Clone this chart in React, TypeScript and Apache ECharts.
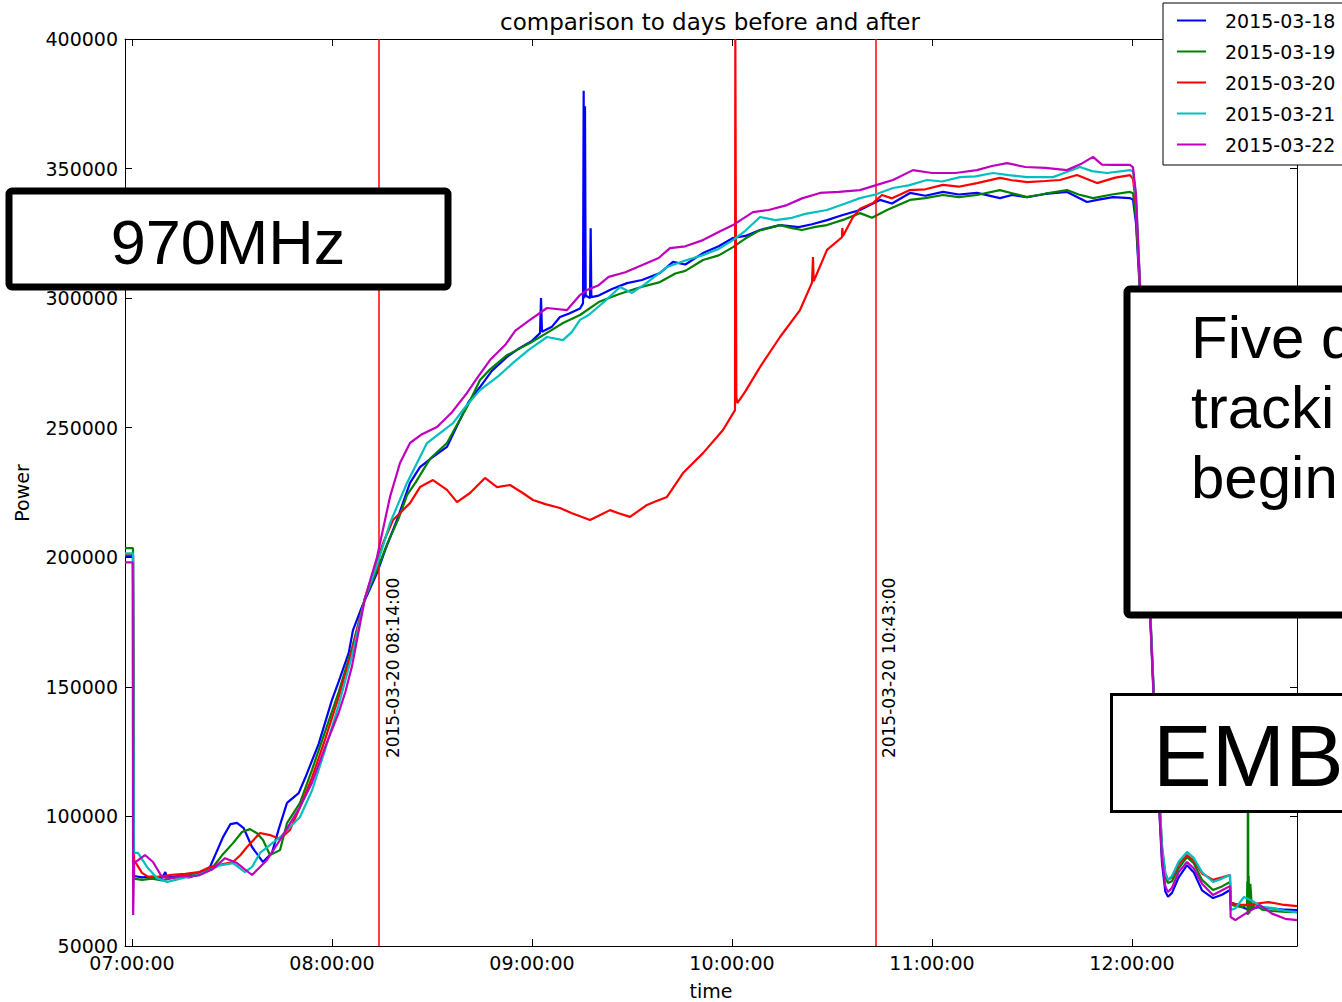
import React, { useEffect, useRef } from "react";
import * as echarts from "echarts";

// minutes after 07:00:00, power
const seriesNames = ["2015-03-18", "2015-03-19", "2015-03-20", "2015-03-21", "2015-03-22"];
const seriesColors = ["#0000ff", "#008000", "#ff0000", "#00bfbf", "#bf00bf"];
const xTickMinutes = [0, 60, 120, 180, 240, 300];
const markerMinutes = [74, 223];
const markerLabels = ["2015-03-20 08:14:00", "2015-03-20 10:43:00"];
const markerLabelValue = 122500;

const d0318: [number, number][] = [
  [-2.1, 200500], [0.3, 200500], [0.6, 77000], [3, 76500], [6, 76800], [9, 76300], [10, 78500], [10.5, 76500],
  [14, 77000], [17, 76500], [20, 77500], [23.4, 80500], [27.3, 92000], [29.5, 97000], [31.5, 97500], [33.5, 95500],
  [36, 88200], [39.3, 82400], [42, 86000], [44, 95000], [46.5, 105200], [50, 109000], [52, 115000], [56, 128000],
  [60, 145000], [62, 152000], [65, 163000], [66.3, 171900], [69, 181000], [73.5, 193900], [76, 203000], [79.5, 214400],
  [83.4, 228700], [86.4, 234800], [90, 238500], [94.5, 242600], [98, 252000], [101, 260000], [104.4, 265700],
  [108, 272000], [112.5, 277300], [116, 280500], [120, 283500], [122.4, 286500], [122.7, 300000], [123, 287000],
  [126, 289000], [128.4, 292700], [131, 294000], [134.4, 296000], [135.3, 298000], [135.5, 380000], [135.7, 300000],
  [135.9, 374000], [136.1, 301000], [137.4, 300000], [137.6, 327000], [137.8, 300400], [140, 301000], [144, 303500],
  [148.5, 305800], [153, 307000], [158.4, 309700], [162.3, 314000], [166, 313000], [171.3, 317400], [176, 320000],
  [180.3, 323200], [184, 324000], [188.4, 326300], [194.4, 328200], [200, 327400], [204, 328500], [208.5, 330100],
  [213, 332000], [218.4, 334000], [224.4, 337900], [228, 336500], [233.4, 340600], [238, 339500], [243.3, 341000],
  [248, 340000], [253.5, 340600], [260.4, 338600], [264, 339800], [268.5, 339000], [274, 340200], [280.5, 341000],
  [286.5, 337100], [290, 338000], [294.3, 339000], [299.4, 338600], [300.3, 338000], [301.2, 329000],
  [302.4, 302000], [303.6, 254000], [304.5, 214000], [305.4, 178600], [306.3, 151600], [307.8, 112000],
  [309, 82000], [310, 71000], [310.8, 69000], [312, 70500], [314, 76500], [316.5, 81200], [318.5, 78500],
  [321, 71500], [324.3, 68500], [327, 69800], [329.4, 71600], [329.6, 66900], [332, 65500], [335, 64000],
  [338, 65000], [342, 64500], [346, 64000], [349.5, 63900],
];

const d0319: [number, number][] = [
  [-2.1, 203500], [0.3, 203500], [0.6, 76000], [3, 75500], [6, 76000], [9, 75300], [12, 76200], [15, 77000],
  [18, 77500], [21, 78000], [24.3, 80500], [27, 85000], [30.3, 89700], [33, 94000], [35.4, 95100], [37.5, 93500],
  [39.3, 90900], [41.4, 85100], [44.4, 87000], [46.5, 97400], [50.4, 105200], [54, 118000], [58, 133000],
  [62, 148000], [66, 165000], [69.9, 184300], [73.5, 195000], [76.5, 205000], [80, 215000], [82.5, 224000],
  [85, 228700], [89.4, 238000], [94.5, 244100], [97, 250000], [100.5, 258000], [104.4, 268400], [107, 272000],
  [112.5, 278000], [119.4, 282700], [125, 287000], [129.3, 290400], [134.4, 293500], [140, 298500], [146, 301500],
  [152, 304000], [158.4, 306200], [163, 309500], [166, 310500], [171.3, 314700], [176, 316500], [180.3, 319700],
  [184, 323000], [188, 326000], [194.4, 328200], [198, 327000], [201, 326300], [205, 327500], [208.5, 328200],
  [214, 330500], [218.4, 332800], [222, 331000], [226.5, 334000], [233.4, 337900], [238, 338600], [243.3, 339800],
  [248, 339000], [253.5, 339800], [260.4, 341700], [264, 340500], [268.5, 339000], [274, 340300], [280.5, 341700],
  [284, 340000], [288.3, 338600], [294, 340000], [299.4, 341000], [300.3, 340500], [301.2, 331000],
  [302.4, 303500], [303.6, 256000], [304.5, 216000], [305.4, 180500], [306.3, 153500], [307.8, 115500],
  [309, 85500], [310, 76500], [310.8, 74300], [312, 75000], [314, 80000], [316.5, 84300], [318.5, 82000],
  [321, 75500], [324.3, 71600], [327, 73000], [329.4, 74700], [329.6, 66000], [331, 65500], [333, 65000],
  [334.5, 66000], [334.6, 75000], [334.7, 62000], [334.8, 145000], [334.9, 63000], [335, 77000], [335.2, 62500],
  [335.5, 74000], [336, 64000], [337, 66500], [339, 64000], [342, 63500], [346, 63200], [349.5, 63100],
];

const d0320: [number, number][] = [
  [-2.1, 201000], [0.3, 201000], [0.6, 83200], [3, 78200], [5, 76600], [8, 76800], [12, 77500], [16, 77800],
  [20, 78500], [23.4, 80500], [27, 81500], [30.3, 82400], [32.5, 85000], [34.5, 88200], [38.4, 93600],
  [41.4, 92800], [44.4, 91300], [47.4, 94800], [50.4, 103600], [54, 115000], [58, 130000], [62, 146000],
  [66, 164000], [69.9, 184300], [73.2, 197800], [75.5, 206000], [78.3, 214400], [83.4, 220900], [86.4, 227100],
  [90.3, 229800], [94.5, 226000], [97.5, 221300], [101.4, 224800], [105.9, 230600], [109.5, 227100],
  [113.4, 227900], [117, 225000], [120.3, 222100], [124, 220500], [128.4, 219000], [132, 217000], [137.4, 214400],
  [140, 216000], [143.4, 218200], [146, 217000], [149.4, 215600], [154.5, 220200], [157, 221500], [160.5, 223300],
  [165.3, 232500], [171.3, 240200], [177.3, 249100], [180.9, 256800], [181.0, 400000], [181.2, 400000],
  [181.3, 262000], [181.6, 259500], [184, 264000], [188.4, 273400], [194.4, 285000], [200.4, 295400],
  [204, 306000], [204.3, 315900], [204.5, 306500], [208.5, 318600], [213, 323500], [213.1, 327100],
  [213.3, 324000], [216.3, 331300], [218.4, 334500], [222.3, 336700], [225, 339800], [228, 338500],
  [233.4, 341700], [238, 342000], [243.3, 343700], [248, 343000], [253.5, 344400], [260.4, 346400],
  [264, 345500], [268.5, 344800], [274, 345200], [278.4, 345600], [283.5, 347500], [289.5, 344400],
  [295, 346500], [299.4, 347500], [300.3, 346000], [301.2, 336000], [302.4, 305000], [303.6, 257000],
  [304.5, 217000], [305.4, 181000], [306.3, 154000], [307.8, 117000], [309, 88000], [310, 78000],
  [310.8, 75500], [312, 76500], [314, 81500], [316.5, 85100], [318.5, 83000], [321, 78000], [324.3, 75500],
  [327, 76500], [329.4, 77400], [329.6, 66600], [332, 66000], [335, 65800], [338, 66500], [341, 66900],
  [345, 66000], [349.5, 65400],
];

const d0321: [number, number][] = [
  [-2.1, 201500], [0.3, 201500], [0.6, 85900], [1.8, 85900], [4.5, 80500], [7.5, 76200], [10.5, 74700],
  [13, 75500], [16, 76500], [20, 77500], [23.4, 79300], [26, 81000], [30.3, 82000], [33.9, 78500], [36, 80500],
  [38.4, 85900], [44.4, 92000], [50.4, 99800], [54, 110000], [58, 126000], [62, 143000], [66, 162000],
  [69.9, 184300], [73.5, 197000], [77.4, 213200], [82.5, 228700], [88.5, 244100], [96.3, 251800], [100, 258000],
  [104.4, 264500], [110, 270000], [114.3, 275000], [119, 280000], [124.5, 285000], [129.3, 283800], [132, 287000],
  [134.4, 291600], [137, 293500], [142, 299000], [146.4, 304300], [150, 302000], [154, 305500], [160.5, 312000],
  [166, 314500], [171.3, 316600], [176, 319000], [180.3, 322400], [184, 326000], [188.4, 331300], [193, 330100],
  [198, 331000], [202, 332500], [208.5, 334000], [214, 336500], [218.4, 338600], [223, 340000], [228.3, 342500],
  [233, 343500], [238.5, 345600], [243, 345000], [248.4, 346700], [253, 347000], [258.3, 348300], [263, 347500],
  [268.5, 346700], [276.3, 346700], [280, 348500], [284.4, 350600], [288, 349000], [292.5, 348300],
  [299.4, 349400], [300.3, 349000], [301.2, 339000], [302.4, 306000], [303.6, 258000], [304.5, 218000],
  [305.4, 181500], [306.3, 155000], [307.8, 118000], [309, 89000], [310, 78000], [310.8, 75500], [312, 77000],
  [314, 82500], [316.5, 86300], [318.5, 84000], [321, 78500], [324.3, 74700], [327, 76000], [329.4, 77400],
  [329.6, 63900], [331, 64500], [333.6, 68900], [336, 67500], [339, 65000], [342, 64700], [346, 63500],
  [349.5, 63100],
];

const d0322: [number, number][] = [
  [-2.1, 198000], [0.2, 198000], [0.35, 62000], [0.6, 82000], [3.9, 85100], [6.3, 82400], [9, 76600],
  [12, 76300], [16, 77000], [20, 77200], [24, 79500], [27.9, 83900], [31.5, 82000], [36, 77400], [40.5, 83200],
  [44.4, 90900], [50.4, 103600], [54, 113000], [58, 127000], [62, 140000], [64, 148000], [66, 158000],
  [69.9, 184300], [73.5, 200000], [77.4, 223300], [80.4, 236400], [83.4, 244100], [87, 247500], [91.5, 250300],
  [96, 256000], [100.5, 263400], [104, 270000], [107.4, 276100], [112, 282000], [115, 287500], [119.4, 291600],
  [124.5, 296200], [130.5, 295400], [134.4, 301200], [136.5, 303100], [140, 305000], [143, 308200], [148, 310000],
  [154.5, 313600], [158, 315500], [161.4, 319300], [166, 320000], [171.3, 322400], [176, 325500], [180.3, 328200],
  [186.3, 333200], [191, 334000], [196.5, 335900], [201, 338500], [206.4, 340600], [212, 341000], [218.4, 341700],
  [223.5, 343700], [228.3, 345600], [234.3, 349400], [240, 348300], [247, 348300], [253.5, 349400], [258, 351000],
  [262.5, 352100], [268, 350600], [274, 350300], [280.5, 349400], [285, 352000], [288.3, 354500], [291, 351500],
  [294.3, 351400], [299.4, 351400], [300.3, 350500], [301.2, 340000], [302.4, 305000], [303.6, 256000],
  [304.5, 216000], [305.4, 179600], [306.3, 152600], [307.8, 113000], [309, 84000], [310, 73000], [310.8, 70800],
  [312, 72500], [314, 78500], [316.5, 82400], [318.5, 80000], [321, 74000], [324.3, 69700], [327, 71500],
  [329.4, 73100], [329.6, 61200], [331, 60000], [334, 62500], [338.4, 65800], [342, 62500], [346, 60500],
  [349.5, 60000],
];

const seriesData = [d0318, d0319, d0320, d0321, d0322];

const FONT = "DejaVu Sans";
const SANS = "Liberation Sans";

function fmtTime(m: number): string {
  const total = 7 * 60 + Math.round(m);
  const h = Math.floor(total / 60);
  const mm = total % 60;
  const p = (n: number) => (n < 10 ? "0" + n : "" + n);
  return p(h) + ":" + p(mm) + ":00";
}

export default function App() {
  const ref = useRef<HTMLDivElement>(null);
  useEffect(() => {
    if (!ref.current) return;
    const chart = echarts.init(ref.current, null, { renderer: "svg" });
    const axisCommonX = {
      type: "value" as const,
      min: -2.1,
      max: 349.5,
      splitLine: { show: false },
      axisLine: { show: true, onZero: false, lineStyle: { color: "#000", width: 1 } },
      axisTick: { show: true, inside: true, length: 7, customValues: xTickMinutes, lineStyle: { color: "#000" } },
    };
    const axisCommonY = {
      type: "value" as const,
      min: 50000,
      max: 400000,
      interval: 50000,
      splitLine: { show: false },
      axisLine: { show: true, onZero: false, lineStyle: { color: "#000", width: 1 } },
      axisTick: { show: true, inside: true, length: 7, lineStyle: { color: "#000" } },
    };
    chart.setOption({
      animation: false,
      backgroundColor: "#fff",
      grid: { left: 125, right: 45, top: 39, bottom: 56, show: false },
      xAxis: [
        {
          ...axisCommonX,
          position: "bottom",
          axisLabel: {
            show: true,
            customValues: xTickMinutes,
            formatter: (v: number) => fmtTime(v),
            color: "#000",
            fontFamily: FONT,
            fontSize: 19,
            margin: 7,
          },
        },
        { ...axisCommonX, position: "top", axisLabel: { show: false } },
      ],
      yAxis: [
        {
          ...axisCommonY,
          position: "left",
          axisLabel: {
            show: true,
            color: "#000",
            fontFamily: FONT,
            fontSize: 19,
            margin: 7,
            formatter: (v: number) => String(v),
          },
        },
        { ...axisCommonY, position: "right", axisLabel: { show: false } },
      ],
      legend: {
        data: seriesNames,
        left: 1163,
        top: 3,
        orient: "vertical",
        icon: "rect",
        itemWidth: 29,
        itemHeight: 2,
        itemGap: 12,
        padding: [8, 20, 11, 14],
        borderColor: "#000",
        borderWidth: 1,
        backgroundColor: "#fff",
        textStyle: { fontFamily: FONT, fontSize: 19, color: "#000", padding: [0, 0, 0, 14] },
        selectedMode: false,
        z: 20,
      },
      series: [
        {
          name: "markers",
          type: "line",
          data: [],
          silent: true,
          z: 1,
          markLine: {
            silent: true,
            symbol: "none",
            label: { show: false },
            lineStyle: { color: "#ff0000", width: 1.5, type: "solid" },
            data: markerMinutes.map((m) => ({ xAxis: m })),
          },
        },
        ...seriesNames.map((name, i) => ({
          name,
          type: "line",
          data: seriesData[i],
          symbol: "none",
          showSymbol: false,
          color: seriesColors[i],
          lineStyle: { color: seriesColors[i], width: 2.2 },
          z: 2 + i,
          clip: true,
        })),
      ],
    });

    const labelY = chart.convertToPixel({ yAxisIndex: 0 }, markerLabelValue) as number;
    const markerTexts = markerMinutes.map((m, i) => {
      const px = chart.convertToPixel({ xAxisIndex: 0 }, m) as number;
      return {
        type: "text",
        x: px + 14,
        y: labelY,
        rotation: Math.PI / 2,
        z: 10,
        style: {
          text: markerLabels[i],
          fontFamily: FONT,
          fontSize: 17,
          fill: "#000",
          align: "left",
          verticalAlign: "middle",
        },
      };
    });

    chart.setOption({
      graphic: [
        ...markerTexts,
        {
          type: "text",
          x: 710,
          y: 22,
          z: 10,
          style: {
            text: "comparison to days before and after",
            fontFamily: FONT,
            fontSize: 23,
            fill: "#000",
            align: "center",
            verticalAlign: "middle",
          },
        },
        {
          type: "text",
          x: 22,
          y: 493,
          rotation: Math.PI / 2,
          z: 10,
          style: { text: "Power", fontFamily: FONT, fontSize: 19, fill: "#000", align: "center", verticalAlign: "middle" },
        },
        {
          type: "text",
          x: 711,
          y: 991,
          z: 10,
          style: { text: "time", fontFamily: FONT, fontSize: 19, fill: "#000", align: "center", verticalAlign: "middle" },
        },
        {
          type: "rect",
          z: 30,
          shape: { x: 9, y: 191, width: 439, height: 96, r: 3 },
          style: { fill: "#fff", stroke: "#000", lineWidth: 7 },
        },
        {
          type: "text",
          x: 228,
          y: 242,
          z: 31,
          style: { text: "970MHz", fontFamily: SANS, fontSize: 63, fill: "#000", align: "center", verticalAlign: "middle" },
        },
        {
          type: "rect",
          z: 30,
          shape: { x: 1127, y: 289, width: 260, height: 326, r: 3 },
          style: { fill: "#fff", stroke: "#000", lineWidth: 7 },
        },
        {
          type: "text",
          x: 1191,
          y: 337,
          z: 31,
          style: { text: "Five d", fontFamily: SANS, fontSize: 60, fill: "#000", align: "left", verticalAlign: "middle" },
        },
        {
          type: "text",
          x: 1191,
          y: 407,
          z: 31,
          style: { text: "tracki", fontFamily: SANS, fontSize: 60, fill: "#000", align: "left", verticalAlign: "middle" },
        },
        {
          type: "text",
          x: 1191,
          y: 477,
          z: 31,
          style: { text: "begin", fontFamily: SANS, fontSize: 60, fill: "#000", align: "left", verticalAlign: "middle" },
        },
        {
          type: "rect",
          z: 30,
          shape: { x: 1111.5, y: 694.5, width: 260, height: 117 },
          style: { fill: "#fff", stroke: "#000", lineWidth: 3 },
        },
        {
          type: "text",
          x: 1153,
          y: 755,
          z: 31,
          style: { text: "EMB", fontFamily: SANS, fontSize: 88, fill: "#000", align: "left", verticalAlign: "middle" },
        },
      ],
    });

    return () => chart.dispose();
  }, []);
  return (
    <div
      ref={ref}
      style={{ position: "fixed", left: 0, top: 0, width: 1342, height: 1002, background: "#fff" }}
    />
  );
}
